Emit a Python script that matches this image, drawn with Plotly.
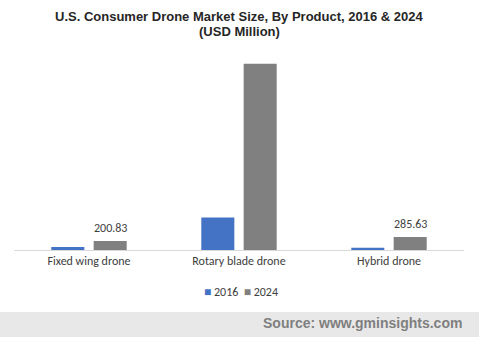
import plotly.graph_objects as go

# Market size by product type (USD Million)
products = ["Fixed wing drone", "Rotary blade drone", "Hybrid drone"]
values_2016 = [66, 720, 50]
values_2024 = [200.83, 4120, 285.63]
labels_2024 = ["200.83", "", "285.63"]
series_names = ["2016", "2024"]

BLUE = "#4472C4"
GRAY = "#808080"
TEXT = "#404040"
BODY_FONT = "Carlito, 'Liberation Sans Narrow', 'Open Sans', sans-serif"
HEAD_FONT = "'Liberation Sans', Arial, sans-serif"

fig = go.Figure()
fig.add_trace(go.Bar(name=series_names[0], x=products, y=values_2016,
                     marker=dict(color=BLUE, line=dict(width=0))))
fig.add_trace(go.Bar(name=series_names[1], x=products, y=values_2024,
                     marker=dict(color=GRAY, line=dict(width=0))))

# value labels above the 2024 bars
for cat, val, lab in zip(products, values_2024, labels_2024):
    if lab:
        fig.add_annotation(x=cat, y=val, text=lab, showarrow=False,
                           xshift=21, yshift=13, yanchor="middle",
                           font=dict(family=BODY_FONT, size=12, color=TEXT))

# two-line bold title
fig.add_annotation(xref="paper", yref="paper", x=0.5, y=1.17, yanchor="middle",
                   showarrow=False,
                   text="<b>U.S. Consumer Drone Market Size, By Product, 2016 & 2024</b>",
                   font=dict(family=HEAD_FONT, size=13, color="#262626"))
fig.add_annotation(xref="paper", yref="paper", x=0.5, y=1.09, yanchor="middle",
                   showarrow=False, text="<b>(USD Million)</b>",
                   font=dict(family=HEAD_FONT, size=13, color="#262626"))

# compact legend row with small square swatches
legend_text = "  ".join(
    f"<span style='color:{c};font-size:12px'>■</span> {n}"
    for c, n in zip([BLUE, GRAY], series_names)
)
fig.add_annotation(xref="paper", yref="paper", x=0.505, y=-0.21, yanchor="middle",
                   showarrow=False, text=legend_text,
                   font=dict(family=BODY_FONT, size=12, color=TEXT))

# source footer band
fig.add_shape(type="rect", xref="paper", yref="paper",
              x0=-0.04, x1=1.04, y0=-0.31, y1=-0.45,
              fillcolor="#e8e8e8", line=dict(width=0), layer="below")
fig.add_annotation(xref="paper", yref="paper", x=1.0, y=-0.365,
                   xanchor="right", yanchor="middle", showarrow=False,
                   text="<b>Source: www.gminsights.com</b>",
                   font=dict(family=HEAD_FONT, size=14, color="#7f7f7f"))

fig.update_layout(
    width=479, height=337,
    margin=dict(l=14, r=15, t=50, b=87),
    paper_bgcolor="white", plot_bgcolor="white",
    barmode="group", bargap=0.435, bargroupgap=0.22,
    showlegend=False,
    xaxis=dict(type="category", showline=True, linecolor="#d9d9d9", linewidth=1,
               ticks="", showgrid=False, tickfont=dict(family=BODY_FONT, size=12, color=TEXT)),
    yaxis=dict(range=[0, 4425], visible=False, showgrid=False),
)

fig.write_html("out.html")
